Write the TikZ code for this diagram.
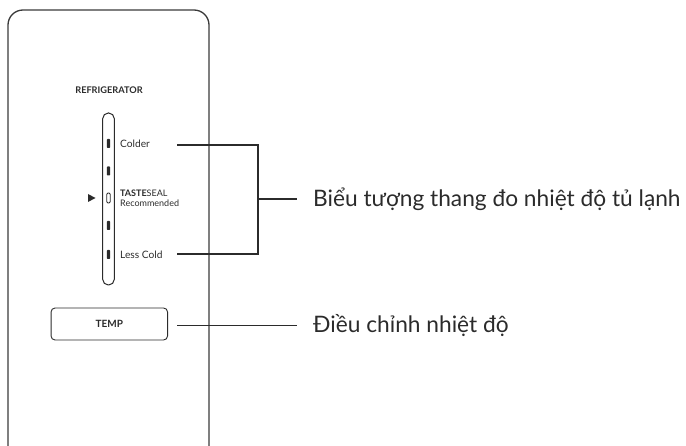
\documentclass[tikz,border=0pt]{standalone}
\usepackage{fontspec}
\setmainfont{Lato}
\definecolor{ink}{HTML}{2B2B2B}
\definecolor{panel}{HTML}{3A3A3A}
\begin{document}
\begin{tikzpicture}[x=1pt,y=-1pt,
  panelline/.style={draw=panel,line width=1.3pt},
  conn/.style={draw=ink,line width=1.2pt},
  small/.style={inner sep=0pt,anchor=west,text=ink,font=\fontsize{10.2}{11}\selectfont},
  smaller/.style={inner sep=0pt,anchor=west,text=ink,font=\fontsize{9}{10}\selectfont},
  big/.style={inner sep=0pt,anchor=west,text=ink,font=\fontsize{22.7}{26}\selectfont},
  tick/.style={fill=ink,rounded corners=0.8pt}]
\useasboundingbox (0,0) rectangle (686,446);
\begin{scope}
\clip (0,0) rectangle (686,446);
\draw[panelline,rounded corners=15pt] (8,10) rectangle (209,462);
\end{scope}
% title
\node[inner sep=0pt,text=ink,font=\bfseries\fontsize{9.2}{10}\selectfont] (title) at (109,90) {REFRIGERATOR};
% tube
\draw[draw=ink,line width=1pt,rounded corners=5.6pt] (102.7,113) rectangle (114.3,285);
\fill[tick] (106.9,139) rectangle (110.1,148);
\fill[tick] (106.9,166.5) rectangle (110.1,175.5);
\draw[draw=ink,line width=0.8pt,rounded corners=1.2pt] (106.8,193) rectangle (110.2,203);
\fill[tick] (106.9,221) rectangle (110.1,230);
\fill[tick] (106.9,250) rectangle (110.1,259);
\fill[ink] (88,194) -- (95.5,198) -- (88,202) -- cycle;
% labels
\node[small] (colder) at (120,144) {Colder};
\node[smaller] (taste) at (120,193) {\textbf{TASTE}SEAL};
\node[smaller] (recom) at (120,203.5) {Recommended};
\node[small] (lesscold) at (120,255) {Less Cold};
% temp button
\node[draw=ink,line width=0.9pt,rounded corners=4pt,minimum width=116.5pt,minimum height=32pt,inner sep=0pt,text=ink,font=\bfseries\fontsize{10}{10}\selectfont] (temp) at (109.3,324) {TEMP};
% right labels
\node[big] (scale) at (313,199) {Biểu tượng thang đo nhiệt độ tủ lạnh};
\node[big] (ctrl) at (313,325.5) {Điều chỉnh nhiệt độ};
% connectors
\coordinate (c1) at (177,145);
\coordinate (c2) at (177,254);
\coordinate (b1) at (258,145);
\coordinate (b2) at (258,254);
\coordinate (bj) at (258,199);
\coordinate (sl) at (297,199);
\coordinate (t1) at (177,325.5);
\coordinate (t2) at (297,325.5);
\draw[conn] (c1) -- (b1) -- (b2) -- (c2);
\draw[conn] (bj) -- (sl);
\draw[conn] (t1) -- (t2);
\end{tikzpicture}
\end{document}
